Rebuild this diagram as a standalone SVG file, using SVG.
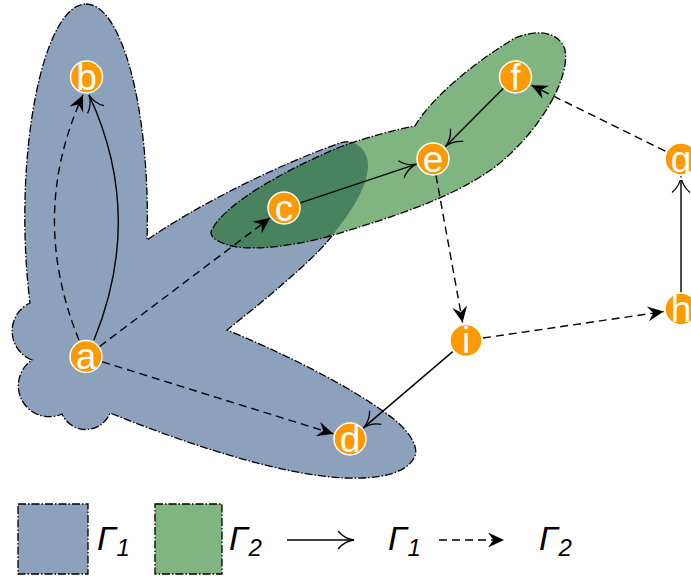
<svg xmlns="http://www.w3.org/2000/svg" width="691" height="576" viewBox="0 0 691 576">
<defs>
<style>
.reg{stroke:#000;stroke-width:1.3;stroke-dasharray:8 2 1.5 2;}
.blue{fill:#8da1bd}
.green{fill:#80b480}
.dark{fill:#48825e}
.e1{fill:none;stroke:#000;stroke-width:1.4;marker-end:url(#to)}
.e2{fill:none;stroke:#000;stroke-width:1.4;stroke-dasharray:8 5;marker-end:url(#st)}
.node circle{fill:#ff9900;stroke:#fff;stroke-width:1.5}
.node text{fill:#fff;font-family:"Liberation Sans",Arial,sans-serif;font-size:37px;text-anchor:middle}
.lg{font-family:"Liberation Sans",Arial,sans-serif;font-style:italic;font-size:34px;fill:#000}
</style>
<marker id="st" markerUnits="userSpaceOnUse" markerWidth="24" markerHeight="24" viewBox="-18 -12 24 24" refX="0" refY="0" orient="auto" overflow="visible">
<path d="M0,0 L-16,-7.5 L-10.5,0 L-16,7.5 Z" fill="#000"/>
</marker>
<marker id="to" markerUnits="userSpaceOnUse" markerWidth="24" markerHeight="24" viewBox="-18 -12 24 24" refX="0" refY="0" orient="auto" overflow="visible">
<path d="M-16,-9 C-11,-3 -4,-0.5 0,0 C-4,0.5 -11,3 -16,9" fill="none" stroke="#000" stroke-width="1.3"/>
</marker>
<clipPath id="blueClip">
<path d="M 86,4 A 61 213 0 0 1 147,240 C 197,205 280,164 340,143 C 355,138 368,150 368,165 C 368,190 345,220 327,242 C 310,262 265,300 227,330 C 280,352 350,385 395,420 C 410,433 420,448 414,458 C 405,474 380,479 345,478 C 280,475 190,445 110,413 A 26 26 0 0 1 62,414 A 31 31 0 0 1 32,360 A 31 31 0 0 1 30,303 A 61 213 0 0 1 86,4 Z"/>
</clipPath>
</defs>

<g id="regions">
<path id="gamma1-region" class="blue reg" d="M 86,4 A 61 213 0 0 1 147,240 C 197,205 280,164 340,143 C 355,138 368,150 368,165 C 368,190 345,220 327,242 C 310,262 265,300 227,330 C 280,352 350,385 395,420 C 410,433 420,448 414,458 C 405,474 380,479 345,478 C 280,475 190,445 110,413 A 26 26 0 0 1 62,414 A 31 31 0 0 1 32,360 A 31 31 0 0 1 30,303 A 61 213 0 0 1 86,4 Z"/>
<path class="green" d="M 213,228 C 225,205 280,172 340,147 C 370,136 395,130 415,126 C 430,100 470,65 515,38 C 540,28 560,33 565,50 C 570,75 545,125 500,163 C 460,195 400,215 330,236 C 290,247 245,252 225,244 C 212,239 208,234 213,228 Z"/>
<path class="dark" clip-path="url(#blueClip)" d="M 213,228 C 225,205 280,172 340,147 C 370,136 395,130 415,126 C 430,100 470,65 515,38 C 540,28 560,33 565,50 C 570,75 545,125 500,163 C 460,195 400,215 330,236 C 290,247 245,252 225,244 C 212,239 208,234 213,228 Z"/>
<path id="gamma2-region" class="reg" fill="none" d="M 213,228 C 225,205 280,172 340,147 C 370,136 395,130 415,126 C 430,100 470,65 515,38 C 540,28 560,33 565,50 C 570,75 545,125 500,163 C 460,195 400,215 330,236 C 290,247 245,252 225,244 C 212,239 208,234 213,228 Z"/>
</g>

<g id="connectors">
<path class="e1" d="M 94,340 Q 145,215 89,95"/>
<path class="e2" d="M 79,340 Q 28,215 83,95"/>
<path class="e2" d="M 99.6,346.5 L 270,218"/>
<path class="e2" d="M 102.2,361.8 L 333.3,433.8"/>
<path class="e1" d="M 300.3,202.9 L 416.4,164.2"/>
<path class="e1" d="M 503.7,88.1 L 445.5,146.4"/>
<path class="e2" d="M 436,175.4 L 462.6,322.5"/>
<path class="e2" d="M 483,338 L 663.7,311.6"/>
<path class="e1" d="M 681,292.5 L 681,176.5"/>
<path class="e2" d="M 665.3,151.2 L 531.5,85.3"/>
<path class="e1" d="M 452.7,351.6 L 363.3,427.9"/>
</g>

<g id="node-a" class="node"><circle cx="86" cy="356.5" r="16"/><text x="86" y="369">a</text></g>
<g id="node-b" class="node"><circle cx="86.5" cy="77" r="16"/><text x="86.5" y="89.5">b</text></g>
<g id="node-c" class="node"><circle cx="284" cy="208" r="16"/><text x="284" y="220.5">c</text></g>
<g id="node-d" class="node"><circle cx="350" cy="439" r="16"/><text x="350" y="451.5">d</text></g>
<g id="node-e" class="node"><circle cx="433" cy="159" r="16"/><text x="433" y="171.5">e</text></g>
<g id="node-f" class="node"><circle cx="515.5" cy="77" r="16"/><text x="515.5" y="89.5">f</text></g>
<g id="node-g" class="node"><circle cx="681" cy="159" r="16"/><text x="681" y="171.5">g</text></g>
<g id="node-h" class="node"><circle cx="681" cy="309" r="16"/><text x="681" y="321.5">h</text></g>
<g id="node-i" class="node"><circle cx="466" cy="340.5" r="16"/><text x="466" y="353">i</text></g>

<g id="legend">
<rect class="blue reg" x="18" y="504" width="70" height="70"/>
<text class="lg" x="97" y="550">Γ<tspan font-size="24" dy="6">1</tspan></text>
<rect class="green reg" x="155" y="504" width="67" height="70"/>
<text class="lg" x="229" y="550">Γ<tspan font-size="24" dy="6">2</tspan></text>
<path class="e1" d="M 287,540 L 354,540"/>
<text class="lg" x="388" y="550">Γ<tspan font-size="24" dy="6">1</tspan></text>
<path class="e2" d="M 439,540 L 504,540"/>
<text class="lg" x="539" y="550">Γ<tspan font-size="24" dy="6">2</tspan></text>
</g>
</svg>
